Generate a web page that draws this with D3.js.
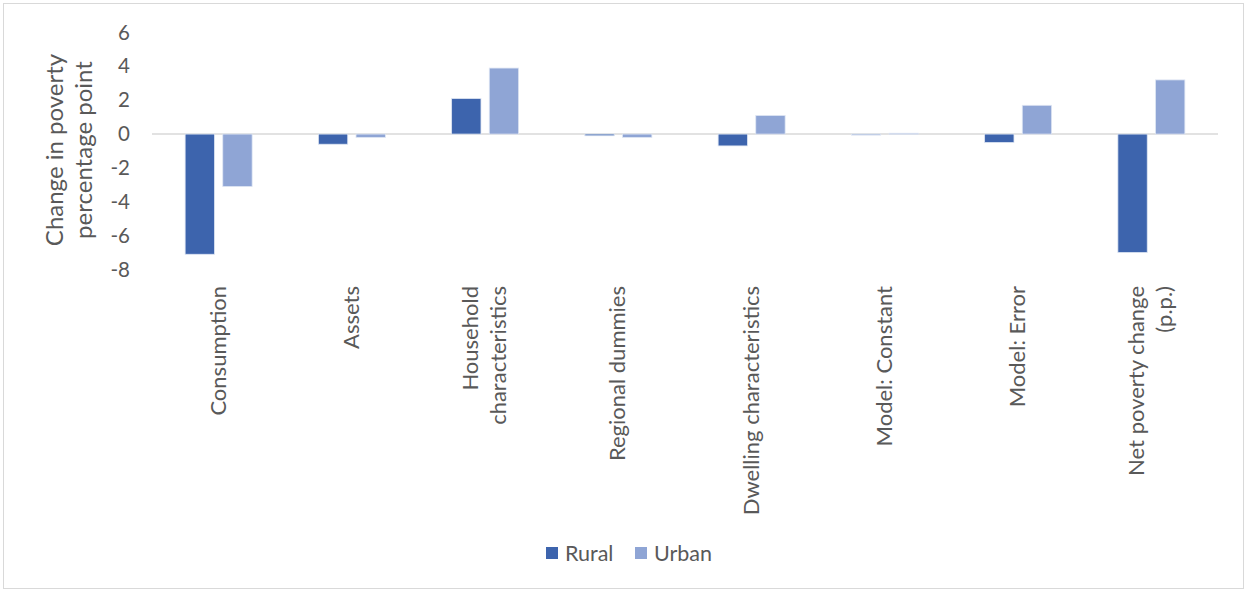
<!DOCTYPE html>
<html>
<head>
<meta charset="utf-8">
<script src="https://cdn.jsdelivr.net/npm/d3@7"></script>
<style>
  html, body { margin: 0; padding: 0; background: #fff; }
  svg { display: block; font-family: Lato, "Open Sans", sans-serif; }
</style>
</head>
<body>
<svg id="chart" width="1247" height="592"></svg>
<script>
// Poverty decomposition by component, rural vs urban (percentage points)
const categories = [
  ["Consumption"],
  ["Assets"],
  ["Household", "characteristics"],
  ["Regional dummies"],
  ["Dwelling characteristics"],
  ["Model: Constant"],
  ["Model: Error"],
  ["Net poverty change", "(p.p.)"]
];
const seriesNames = ["Rural", "Urban"];
const ruralValues = [-7.1, -0.6, 2.1, -0.1, -0.7, -0.05, -0.5, -7.0];
const urbanValues = [-3.1, -0.2, 3.9, -0.2, 1.1, 0.05, 1.7, 3.2];
const yTicks = [-8, -6, -4, -2, 0, 2, 4, 6];
const seriesColors = ["#3d64ad", "#8fa5d5"];

const svg = d3.select("#chart");
const W = 1247, H = 592;

// outer chart frame
svg.append("rect")
  .attr("x", 3.5).attr("y", 3.5)
  .attr("width", W - 7).attr("height", H - 7)
  .attr("fill", "#fff").attr("stroke", "#d9d9d9").attr("stroke-width", 1);

const plot = { left: 152, right: 1218, top: 32.5, bottom: 269.5 };

const keys = categories.map((c, i) => i);
const x0 = d3.scaleBand().domain(keys).range([plot.left, plot.right]).padding(0);
const bw = x0.bandwidth();
const x1 = d3.scaleBand().domain(seriesNames)
  .range([bw / 2 - 33.5, bw / 2 + 33.5]).paddingInner(0.22);
const y = d3.scaleLinear().domain([-8, 6]).range([plot.bottom, plot.top]);

// y axis labels (no line, no ticks)
const yAxis = d3.axisLeft(y).tickValues(yTicks).tickSize(0).tickPadding(0)
  .tickFormat(d => d < 0 ? "-" + Math.abs(d) : String(d));
const gy = svg.append("g").attr("transform", `translate(130,0)`).call(yAxis);
gy.select(".domain").remove();
gy.selectAll("text")
  .attr("fill", "#595959")
  .style("font-size", "20.5px")
  .style("font-family", "Lato, 'Open Sans', sans-serif");

// zero line
svg.append("line")
  .attr("x1", plot.left).attr("x2", plot.right)
  .attr("y1", y(0)).attr("y2", y(0))
  .attr("stroke", "#d9d9d9").attr("stroke-width", 1.5);

// bars
const rows = keys.map(i => ({ i, values: [ruralValues[i], urbanValues[i]] }));
const groups = svg.append("g").selectAll("g").data(rows).join("g")
  .attr("transform", d => `translate(${x0(d.i)},0)`);
groups.selectAll("rect")
  .data(d => d.values.map((v, k) => ({ key: seriesNames[k], v, k })))
  .join("rect")
  .attr("x", d => x1(d.key))
  .attr("width", x1.bandwidth())
  .attr("y", d => y(Math.max(0, d.v)))
  .attr("height", d => Math.max(1, Math.abs(y(d.v) - y(0))))
  .attr("fill", d => seriesColors[d.k])
  .attr("stroke", "#dfe6f3").attr("stroke-width", 0.8);

// category labels, rotated
const catG = svg.append("g");
categories.forEach((lines, i) => {
  const cx = x0(i) + bw / 2;
  const lh = 28;
  const off = -(lines.length - 1) * lh / 2;
  lines.forEach((t, j) => {
    catG.append("text")
      .attr("transform", `translate(${cx + off + j * lh + 7},286) rotate(-90)`)
      .attr("text-anchor", "end")
      .attr("fill", "#595959")
      .style("font-size", "22px")
      .text(t);
  });
});

// y axis title
const title = svg.append("text")
  .attr("transform", "translate(80,150) rotate(-90)")
  .attr("text-anchor", "middle")
  .attr("fill", "#595959")
  .style("font-size", "24px");
title.append("tspan").attr("x", 0).attr("dy", "-0.72em").text("Change in poverty");
title.append("tspan").attr("x", 0).attr("dy", "1.2em").text("percentage point");

// legend
const legend = svg.append("g").attr("transform", "translate(546,553)");
const legendX = [0, 89];
seriesNames.forEach((name, k) => {
  const g = legend.append("g").attr("transform", `translate(${legendX[k]},0)`);
  g.append("rect").attr("x", 0).attr("y", -6).attr("width", 12).attr("height", 12)
    .attr("fill", seriesColors[k]);
  g.append("text").attr("x", 19).attr("y", 0).attr("dy", "0.35em")
    .attr("fill", "#595959").style("font-size", "21.5px").text(name);
});
</script>
</body>
</html>
